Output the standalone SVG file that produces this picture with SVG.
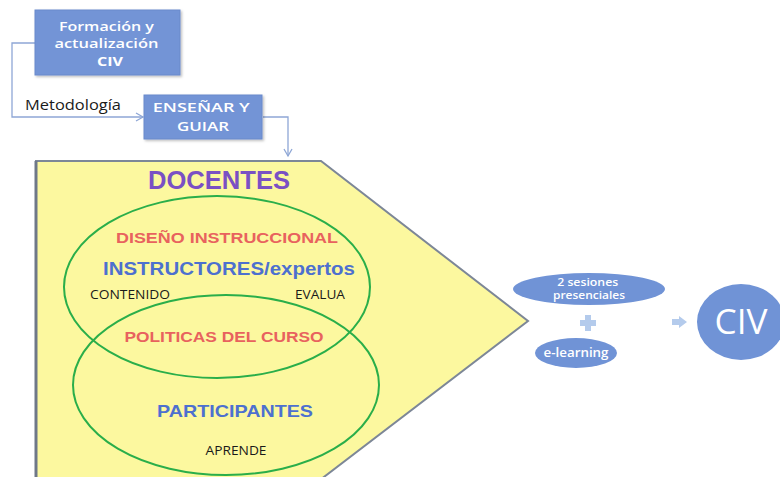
<svg xmlns="http://www.w3.org/2000/svg" width="780" height="477" viewBox="0 0 780 477">
<defs>
<style>
.box{fill:#7394d6;stroke:#6a8acb;stroke-width:1}
.wt{fill:#ffffff;font-family:"Open Sans","Liberation Sans",sans-serif;text-anchor:middle}
.conn{fill:none;stroke:#8fa7d6;stroke-width:1.3}
.ell{fill:none;stroke:#2aae4a;stroke-width:2}
.big{font-family:"Liberation Sans",Arial,sans-serif;font-weight:bold;text-anchor:middle}
.sm{font-family:"Open Sans","Liberation Sans",sans-serif;font-size:12px;fill:#1a1a1a;text-anchor:middle}
.blob{fill:#7093d6}
</style>
<marker id="arr" markerWidth="10" markerHeight="10" refX="8" refY="5" orient="auto" markerUnits="userSpaceOnUse">
<path d="M1,1 L8,5 L1,9" fill="none" stroke="#8fa7d6" stroke-width="1.3"/>
</marker>
<filter id="sh" x="-10%" y="-10%" width="130%" height="130%">
<feDropShadow dx="1.5" dy="1.5" stdDeviation="1.2" flood-color="#000" flood-opacity="0.25"/>
</filter>
</defs>
<rect width="780" height="477" fill="#ffffff"/>

<g id="connectors">
<path class="conn" d="M35,43 H12 V117 H143" marker-end="url(#arr)"/>
<path class="conn" d="M263,117 H288 V156" marker-end="url(#arr)"/>
<text x="25" y="110" font-family="'Open Sans','Liberation Sans',sans-serif" font-size="14" fill="#1a1a1a" textLength="96" lengthAdjust="spacingAndGlyphs">Metodología</text>
</g>

<g id="formacion">
<rect class="box" x="35" y="10" width="145" height="65" filter="url(#sh)"/>
<text class="wt" font-size="12.5" font-weight="600">
<tspan x="108" y="31" textLength="95" lengthAdjust="spacingAndGlyphs">Formación y</tspan>
<tspan x="108" y="48" textLength="104" lengthAdjust="spacingAndGlyphs">actualización</tspan>
<tspan x="110" y="66" font-weight="bold" textLength="26" lengthAdjust="spacingAndGlyphs">CIV</tspan></text>
</g>

<g id="ensenar">
<rect class="box" x="144" y="95" width="118" height="44" filter="url(#sh)"/>
<text class="wt" font-size="13" font-weight="600">
<tspan x="203" y="112" textLength="97" lengthAdjust="spacingAndGlyphs">ENSEÑAR Y</tspan>
<tspan x="203" y="131" textLength="52" lengthAdjust="spacingAndGlyphs">GUIAR</tspan></text>
</g>

<g id="docentes">
<path d="M36,161 H321 L528,321 L320,480 H36 Z" fill="#fcf89f" stroke="#7d8797" stroke-width="2"/>
<line x1="36" y1="161" x2="36" y2="477" stroke="#6f7888" stroke-width="3"/>
<text class="big" x="219" y="189" font-size="25" fill="#7a50c4" textLength="142" lengthAdjust="spacingAndGlyphs">DOCENTES</text>
<ellipse class="ell" cx="217" cy="287" rx="153" ry="91"/>
<ellipse class="ell" cx="226" cy="385" rx="153" ry="90"/>
<text class="big" x="227" y="243" font-size="15" fill="#e8625e" textLength="222" lengthAdjust="spacingAndGlyphs">DISEÑO INSTRUCCIONAL</text>
<text class="big" x="229" y="275" font-size="18" fill="#4d70cf" textLength="252" lengthAdjust="spacingAndGlyphs">INSTRUCTORES/expertos</text>
<text class="sm" x="130" y="299" textLength="80" lengthAdjust="spacingAndGlyphs">CONTENIDO</text>
<text class="sm" x="320" y="299" textLength="50" lengthAdjust="spacingAndGlyphs">EVALUA</text>
<text class="big" x="224" y="342" font-size="15" fill="#e8625e" textLength="199" lengthAdjust="spacingAndGlyphs">POLITICAS DEL CURSO</text>
<text class="big" x="235" y="417" font-size="17" fill="#4d70cf" textLength="156" lengthAdjust="spacingAndGlyphs">PARTICIPANTES</text>
<text class="sm" x="236" y="455" textLength="61" lengthAdjust="spacingAndGlyphs">APRENDE</text>
</g>

<g id="sesiones">
<ellipse class="blob" cx="589" cy="289" rx="76" ry="16"/>
<text class="wt" font-size="10" font-weight="600">
<tspan x="589" y="286" textLength="61" lengthAdjust="spacingAndGlyphs">2 sesiones</tspan>
<tspan x="589" y="299" textLength="72" lengthAdjust="spacingAndGlyphs">presenciales</tspan></text>
</g>

<g id="plus">
<path d="M585,315 h6 v5 h5 v6 h-5 v5 h-6 v-5 h-5 v-6 h5 Z" fill="#b4cbec"/>
</g>

<g id="elearning">
<ellipse class="blob" cx="576" cy="353" rx="41" ry="15"/>
<text class="wt" font-size="12" font-weight="600" x="576" y="357" textLength="65" lengthAdjust="spacingAndGlyphs">e-learning</text>
</g>

<g id="flecha">
<path d="M672,319 h7 v-3 l8,6 l-8,6 v-3 h-7 Z" fill="#b4cbec"/>
</g>

<g id="civ">
<ellipse class="blob" cx="741" cy="322" rx="44" ry="38"/>
<text class="wt" font-size="34" x="741" y="334" textLength="53" lengthAdjust="spacingAndGlyphs">CIV</text>
</g>
</svg>
